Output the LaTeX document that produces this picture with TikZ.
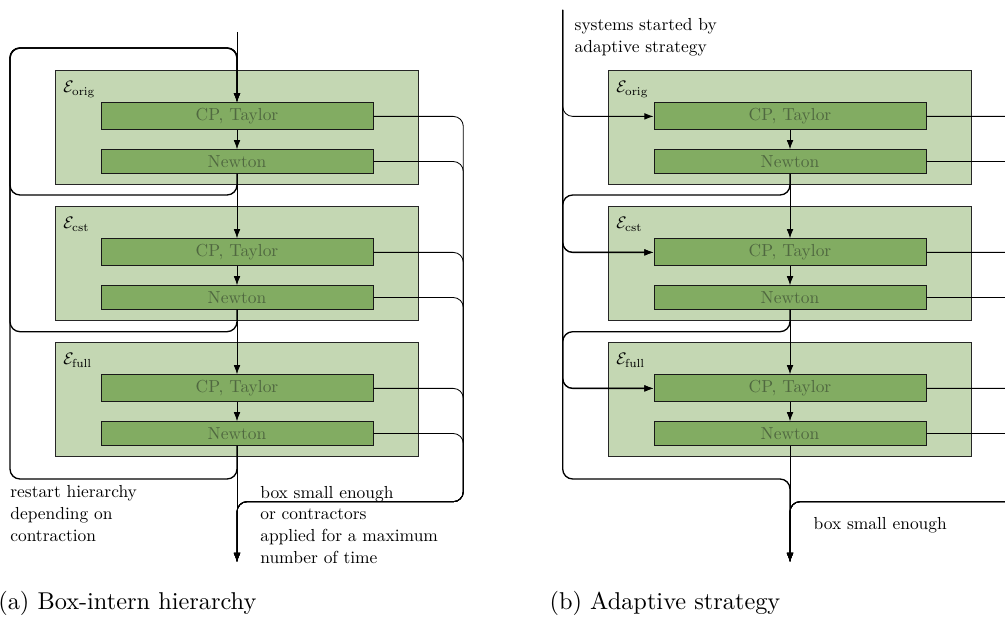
\documentclass[tikz,border=0pt]{standalone}
\usepackage{graphicx}
\usetikzlibrary{arrows.meta}
\definecolor{outerfill}{RGB}{196,215,179}
\definecolor{innerfill}{RGB}{130,172,98}
\definecolor{innertext}{RGB}{80,104,64}
\begin{document}
\begin{tikzpicture}[x=0.6pt,y=-0.6pt,
  font=\fontsize{10.45}{13}\selectfont,
  stage/.style={draw=black!85, fill=outerfill, line width=0.6pt,
    minimum width=217.8pt, minimum height=68.1pt, inner sep=0pt},
  contractor/.style={draw=black!90, fill=innerfill, text=innertext,
    line width=0.6pt, minimum width=163.2pt, inner xsep=0pt, inner ysep=3.4pt},
  tip/.style={-{Latex[length=5.5pt,width=4pt]}},
  flow/.style={line width=0.5pt, tip},
  link/.style={line width=0.5pt, rounded corners=6pt, tip},
  loop/.style={line width=0.8pt, rounded corners=6pt, tip},
  note/.style={align=left, anchor=base west, inner sep=0pt},
  caption/.style={anchor=base west, inner sep=0pt,
    font=\fontsize{10}{12}\selectfont},
]
\useasboundingbox (0,0) rectangle (1005,617);
\clip (0,0) rectangle (1005,617);

% the three stages of each hierarchy, left (L) and right (R)
\foreach \side/\sx in {L/0,R/553}{
  \foreach \s/\k in {orig/0,cst/1,full/2}{
    \pgfmathsetmacro{\dy}{136*\k}
    \node[stage] (\side st-\s) at (237+\sx,127.3+\dy) {};
    \node[anchor=base west, inner sep=0pt] (\side lab-\s)
      at ([shift={(8,22.8)}]\side st-\s.north west) {$\mathcal{E}_{\mathrm{\s}}$};
    \node[contractor, anchor=north] (\side cp-\s) at (237+\sx,102.3+\dy) {CP, Taylor};
    \node[contractor, anchor=north] (\side nw-\s) at (237+\sx,149.3+\dy) {Newton};
    \draw[flow] (\side cp-\s.south) -- (\side nw-\s.north);
  }
  \draw[flow] (\side nw-orig.south) -- (\side cp-cst.north);
  \draw[flow] (\side nw-cst.south) -- (\side cp-full.north);
}

% (a) box-intern hierarchy
\coordinate (Lin) at (237,32);
\coordinate (Lout) at (237,562);
\draw[flow] (Lin) -- (Lcp-orig.north);
\draw[flow] (Lnw-full.south) -- (Lout);
\foreach \s/\ly in {orig/195,cst/331.7,full/479}{
  \draw[loop] (Lnw-\s.south) -- (237,\ly) -- (10,\ly) -- (10,48) -- (237,48)
    -- (Lcp-orig.north);
  \draw[link] (Lcp-\s.east) -| (463.3,501.7) -| (Lout);
  \draw[link] (Lnw-\s.east) -| (463.3,501.7) -| (Lout);
}
\node[note] (Lrestart) at (10,541.3)
  {restart hierarchy\\depending on\\contraction};
\node[note] (Lsmall) at (260,563)
  {box small enough\\or contractors\\applied for a maximum\\number of time};
\node[caption] (Lcap) at (-2,609.5) {\scalebox{1.46}{(a) Box-intern hierarchy}};

% (b) adaptive strategy
\coordinate (Rin) at (562.7,10);
\coordinate (Rout) at (790,562);
\foreach \s in {orig,cst,full}{
  \draw[link] (Rin) |- (Rcp-\s.west);
  \draw[link] (Rcp-\s.east) -| (1040,501.7) -| (Rout);
  \draw[link] (Rnw-\s.east) -| (1040,501.7) -| (Rout);
}
\draw[loop] (Rin) |- (790,479) -- (Rout);
\draw[loop] (Rnw-orig.south) |- (562.7,195) |- (Rcp-cst.west);
\draw[loop] (Rnw-cst.south) |- (562.7,331.7) |- (Rcp-full.west);
\draw[flow] (Rnw-full.south) -- (Rout);
\node[note] (Rstart) at (574.3,52.3)
  {systems started by\\adaptive strategy};
\node[note] (Rsmall) at (813.3,529) {box small enough};
\node[caption] (Rcap) at (549.3,609.5) {\scalebox{1.46}{(b) Adaptive strategy}};
\end{tikzpicture}
\end{document}
